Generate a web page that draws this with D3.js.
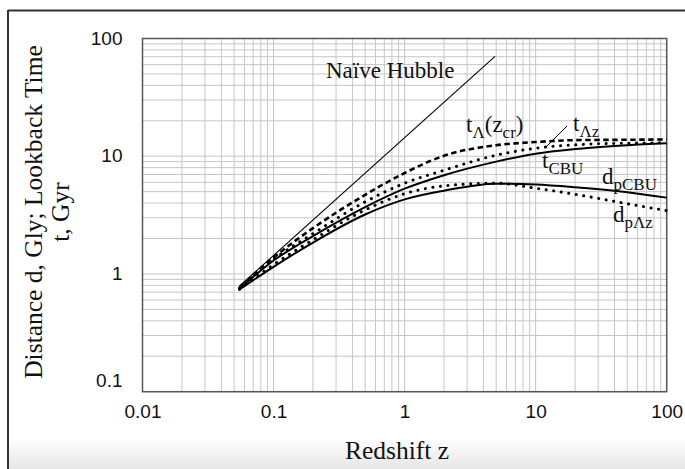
<!DOCTYPE html>
<html><head><meta charset="utf-8">
<script src="https://cdn.jsdelivr.net/npm/d3@7"></script>
<style>body{margin:0;background:#fff}</style>
</head><body><svg id="c" width="685" height="469"></svg>
<script>
// ---- data ----
const zValues    = [0.055, 0.1, 0.2, 0.5, 1, 2, 5, 10, 20, 50, 100];
const tCBU       = [0.75, 1.30, 2.10, 3.70, 5.30, 6.90, 9.00, 10.5, 11.5, 12.4, 12.9];
const tLambdaZ   = [0.76, 1.33, 2.20, 4.10, 5.90, 7.60, 10.2, 11.7, 12.5, 12.9, 13.0];
const tLambdaZcr = [0.77, 1.38, 2.45, 4.70, 7.20, 10.1, 12.4, 13.2, 13.7, 13.8, 13.9];
const dpCBU      = [0.74, 1.15, 1.85, 3.20, 4.30, 5.10, 5.85, 5.75, 5.45, 4.95, 4.45];
const dpLambdaZ  = [0.74, 1.20, 1.95, 3.50, 4.80, 5.60, 5.90, 5.35, 4.75, 3.95, 3.45];
const hubbleZ    = [0.055, 4.9];
const hubbleD    = [0.79, 70.5];
const xTickVals  = [0.01, 0.1, 1, 10, 100];
const yTickVals  = [0.1, 1, 10, 100];
const xTitle = "Redshift z";
const yTitle1 = "Distance d, Gly; Lookback Time";
const yTitle2 = "t, Gyr";

const svg = d3.select("#c");
const W = 685, H = 469;
const m = {l: 142.5, t: 38.5, r: 685 - 666.7, b: 469 - 391.7};
const pw = W - m.l - m.r, ph = H - m.t - m.b;

// background frame & bottom shade
const defs = svg.append("defs");
const g1 = defs.append("linearGradient").attr("id","shade").attr("x1",0).attr("y1",0).attr("x2",0).attr("y2",1);
g1.append("stop").attr("offset","0").attr("stop-color","#ffffff");
g1.append("stop").attr("offset","1").attr("stop-color","#e6e6e6");
svg.append("rect").attr("x",8).attr("y",438).attr("width",W-8).attr("height",H-438).attr("fill","url(#shade)");
svg.append("line").attr("x1",8).attr("x2",W).attr("y1",10.5).attr("y2",10.5).attr("stroke","#333").attr("stroke-width",2);
svg.append("line").attr("x1",8).attr("x2",8).attr("y1",10).attr("y2",H).attr("stroke","#333").attr("stroke-width",2);

const x = d3.scaleLog().domain([0.01, 100]).range([m.l, m.l + pw]);
const y = d3.scaleLog().domain([0.1, 100]).range([m.t + ph, m.t]);

// grid
const grid = svg.append("g");
grid.selectAll(".vx").data(x.ticks()).join("line")
  .attr("x1", d => x(d)).attr("x2", d => x(d)).attr("y1", m.t).attr("y2", m.t + ph)
  .attr("stroke", "#c6c6c6").attr("stroke-width", 1);
grid.selectAll(".hy").data(y.ticks()).join("line")
  .attr("y1", d => y(d)).attr("y2", d => y(d)).attr("x1", m.l).attr("x2", m.l + pw)
  .attr("stroke", "#c6c6c6").attr("stroke-width", 1);

// axes labels
const sans = "Liberation Sans, Arial, sans-serif";
const xAxis = d3.axisBottom(x).tickValues(xTickVals).tickFormat(d3.format("~g")).tickSize(0).tickPadding(13);
const gx = svg.append("g").attr("transform", `translate(0,${m.t + ph})`).call(xAxis);
gx.select(".domain").remove();
gx.selectAll("text").attr("font-family", sans).attr("font-size",19).attr("fill","#111");

const yAxis = d3.axisLeft(y).tickValues(yTickVals).tickFormat(d3.format("~g")).tickSize(0).tickPadding(20);
const gy = svg.append("g").attr("transform", `translate(${m.l},0)`).call(yAxis);
gy.select(".domain").remove();
gy.selectAll("text").attr("font-family", sans).attr("font-size",19).attr("fill","#111")
  .attr("dy", d => d === 0.1 ? "-0.3em" : "0.3em");

// plot border
svg.append("rect").attr("x", m.l).attr("y", m.t).attr("width", pw).attr("height", ph)
  .attr("fill","none").attr("stroke","#555").attr("stroke-width",1.5);

// series
const line = d3.line().x(d => x(d[0])).y(d => y(d[1])).curve(d3.curveMonotoneX);
const series = [
  {vals: tCBU, dash: null, w: 2},
  {vals: dpCBU, dash: null, w: 2},
  {vals: tLambdaZcr, dash: "5.5,3.5", w: 2.6, cap: "butt"},
  {vals: tLambdaZ, dash: "0.1,7.5", w: 3, cap: "round"},
  {vals: dpLambdaZ, dash: "0.1,7.5", w: 3, cap: "round"}
];
series.forEach(s => {
  svg.append("path").datum(zValues.map((z,i) => [z, s.vals[i]]))
    .attr("d", line).attr("fill","none").attr("stroke","#000")
    .attr("stroke-width", s.w).attr("stroke-dasharray", s.dash)
    .attr("stroke-linecap", s.cap || "butt");
});
svg.append("path").datum(hubbleZ.map((z,i) => [z, hubbleD[i]]))
  .attr("d", d3.line().x(d => x(d[0])).y(d => y(d[1])))
  .attr("fill","none").attr("stroke","#000").attr("stroke-width",1.1);

// titles
const serif = "Liberation Serif, Times New Roman, serif";
svg.append("text").attr("x", 397).attr("y", 459).attr("text-anchor","middle")
  .attr("font-family", serif).attr("font-size", 25.5).attr("fill","#111").text(xTitle);
const yt = svg.append("text").attr("transform","translate(42,212) rotate(-90)").attr("text-anchor","middle")
  .attr("font-family", serif).attr("font-size", 25.5).attr("fill","#111");
yt.append("tspan").attr("x",0).attr("y",0).text(yTitle1);
yt.append("tspan").attr("x",0).attr("y",27).text(yTitle2);

// annotations
function label(px, py, parts) {
  const t = svg.append("text").attr("x", px).attr("y", py).attr("font-family", serif)
    .attr("font-size", 23).attr("fill","#111");
  let shift = 0;
  parts.forEach(p => {
    const sub = p[1];
    const target = sub ? 6 : 0;
    t.append("tspan").attr("dy", target - shift).attr("font-size", sub ? 17 : 23).text(p[0]);
    shift = target;
  });
}
label(326, 78, [["Naïve Hubble", false]]);
label(466, 132, [["t", false], ["Λ", true], ["(z", false], ["cr", true], [")", false]]);
label(573, 131, [["t", false], ["Λz", true]]);
label(542, 168, [["t", false], ["CBU", true]]);
label(602, 184, [["d", false], ["pCBU", true]]);
label(613, 222, [["d", false], ["pΛz", true]]);
svg.append("line").attr("x1", 567).attr("y1", 126).attr("x2", 545).attr("y2", 148)
  .attr("stroke","#000").attr("stroke-width",1);
</script></body></html>
